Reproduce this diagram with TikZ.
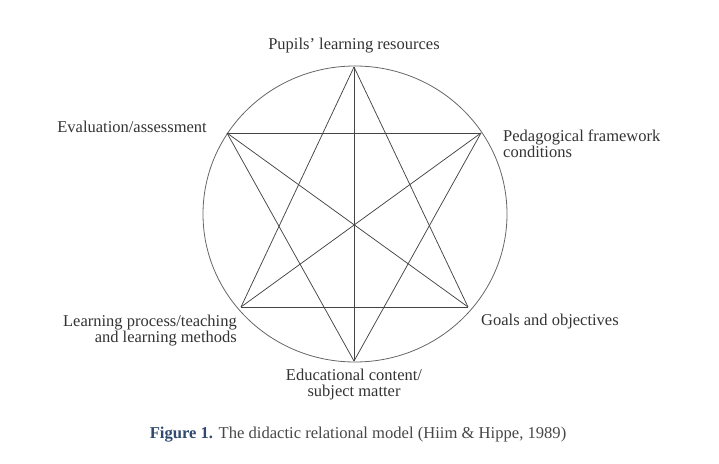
\documentclass[tikz,border=0pt]{standalone}
\usepackage{fontspec}
\setmainfont{Liberation Serif}
\usepackage{tikz}
\definecolor{txtgray}{HTML}{333333}
\definecolor{linegray}{HTML}{444444}
\definecolor{capblue}{HTML}{2F4A6E}

\begin{document}
\begin{tikzpicture}[x=1pt,y=-1pt,
  label/.style={font=\fontsize{16.5}{15.5}\selectfont,text=txtgray,inner sep=0pt},
  link/.style={draw=linegray,line width=0.75pt}]
  \useasboundingbox (0,0) rectangle (719,463);
  \draw[gray!80!black,line width=0.8pt] (355,214) ellipse [x radius=152pt,y radius=148pt];
  % the six corners of the star
  \coordinate (top) at (354,67);
  \coordinate (ul) at (227,133);
  \coordinate (ur) at (481,133);
  \coordinate (ll) at (241,307);
  \coordinate (lr) at (468,307);
  \coordinate (bot) at (354,361);
  \foreach \a/\b in {top/bot,ul/ur,ll/lr,ul/lr,ur/ll,top/ll,top/lr,bot/ul,bot/ur}
    \draw[link] (\a) -- (\b);
  % labels
  \node[label] (pupils) at (354,46) {Pupils’ learning resources};
  \node[label,anchor=east] (eval) at (207,127) {Evaluation/assessment};
  \node[label,anchor=north west,align=left] (frame) at (503,130) {Pedagogical framework\\conditions};
  \node[label,anchor=north east,align=right] (process) at (237,315) {Learning process/teaching\\and learning methods};
  \node[label,anchor=west] (goals) at (481,322) {Goals and objectives};
  \node[label,anchor=north,align=center] (content) at (354,369) {Educational content/\\subject matter};
  \node[font=\fontsize{16.6}{18}\selectfont,text=txtgray!90,inner sep=0pt] (caption) at (358,435)
    {\textcolor{capblue}{\textbf{Figure 1.}} The didactic relational model (Hiim \& Hippe, 1989)};
\end{tikzpicture}
\end{document}
